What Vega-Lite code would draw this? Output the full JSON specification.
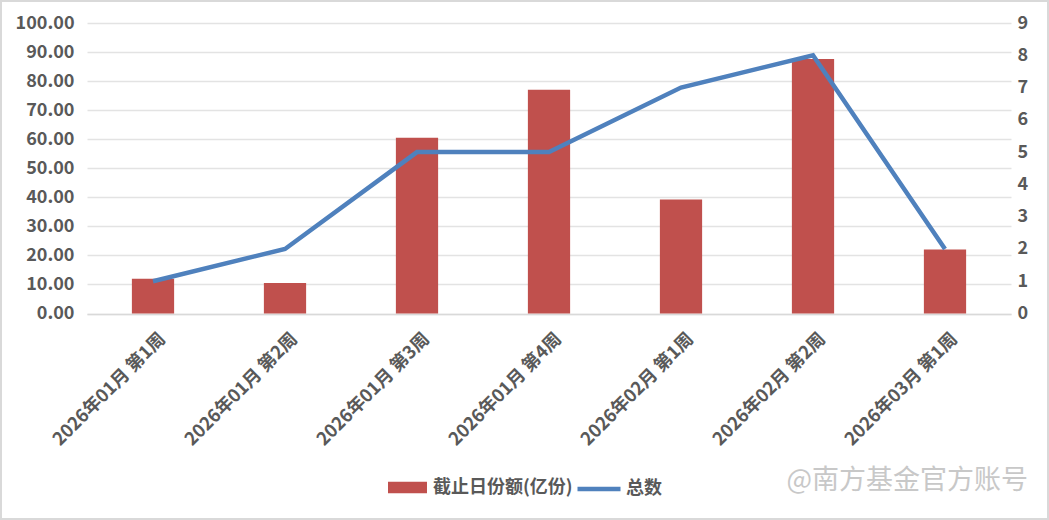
{
 "$schema":"https://vega.github.io/schema/vega-lite/v6.json",
 "width":1049,"height":520,"padding":0,"autosize":{"type":"none"},
 "background":"#ffffff",
 "config":{"font":"Noto Sans CJK SC","view":{"stroke":"#d9d9d9","strokeWidth":4}},
 "title":{"text":"@南方基金官方账号","orient":"bottom","anchor":"end","offset":-52,"dx":-21,"fontSize":27,"fontWeight":"normal","color":"#c8c8c8","font":"Noto Sans CJK SC"},
 "data":{"values":[
  {"week":"2026年01月 第1周","share":12,"total":1,"s1":"截止日份额(亿份)","s2":"总数"},
  {"week":"2026年01月 第2周","share":10.5,"total":2,"s1":"截止日份额(亿份)","s2":"总数"},
  {"week":"2026年01月 第3周","share":60.5,"total":5,"s1":"截止日份额(亿份)","s2":"总数"},
  {"week":"2026年01月 第4周","share":77,"total":5,"s1":"截止日份额(亿份)","s2":"总数"},
  {"week":"2026年02月 第1周","share":39.2,"total":7,"s1":"截止日份额(亿份)","s2":"总数"},
  {"week":"2026年02月 第2周","share":87.6,"total":8,"s1":"截止日份额(亿份)","s2":"总数"},
  {"week":"2026年03月 第1周","share":22,"total":2,"s1":"截止日份额(亿份)","s2":"总数"}
 ]},
 "encoding":{"x":{"field":"week","type":"nominal","sort":null,
   "scale":{"type":"band","range":[87,1011],"paddingInner":0.68,"paddingOuter":0.34},
   "axis":{"title":null,"orient":"bottom","offset":-206,"labelAngle":-45,"labelAlign":"right","labelBaseline":"middle","labelFontSize":18,"labelFontWeight":"bold","labelColor":"#595959","labelPadding":22,"labelOffset":10,"ticks":false,"domainColor":"#d9d9d9","domainWidth":1.5,"grid":false,"labelOverlap":false,"labelLimit":300}}},
 "layer":[
  {"mark":{"type":"bar","clip":false},
   "encoding":{"y":{"field":"share","type":"quantitative","scale":{"domain":[0,100],"range":[313.5,23],"nice":false},
     "axis":{"title":null,"orient":"left","offset":-74,"values":[0,10,20,30,40,50,60,70,80,90,100],"format":".2f","labelFontSize":18,"labelFontWeight":"bold","labelColor":"#595959","ticks":false,"domain":false,"grid":true,"gridColor":"#e3e3e3","gridWidth":1.5,"labelPadding":0}},
    "fill":{"field":"s1","type":"nominal","scale":{"range":["#c0504d"]},
     "legend":{"title":null,"orient":"none","legendX":388,"legendY":468,"symbolType":"M-1,-0.3H1V0.3H-1Z","symbolSize":1520,"symbolStrokeWidth":0,"labelFontSize":18,"labelFontWeight":"bold","labelColor":"#595959","labelLimit":300,"labelOffset":6}}}},
  {"mark":{"type":"line","strokeWidth":4.5,"clip":false},
   "encoding":{"y":{"field":"total","type":"quantitative","scale":{"domain":[0,9],"range":[313.5,23],"nice":false},
     "axis":{"title":null,"orient":"right","offset":-38,"values":[0,1,2,3,4,5,6,7,8,9],"format":"d","labelFontSize":18,"labelFontWeight":"bold","labelColor":"#595959","ticks":false,"domain":false,"grid":false,"labelPadding":6}},
    "stroke":{"field":"s2","type":"nominal","scale":{"range":["#4f81bd"]},
     "legend":{"title":null,"orient":"none","legendX":575,"legendY":465,"symbolType":"stroke","symbolSize":1850,"symbolStrokeWidth":4.5,"labelFontSize":18,"labelFontWeight":"bold","labelColor":"#595959","labelOffset":3}}}}
 ],
 "resolve":{"scale":{"y":"independent"}}
}
